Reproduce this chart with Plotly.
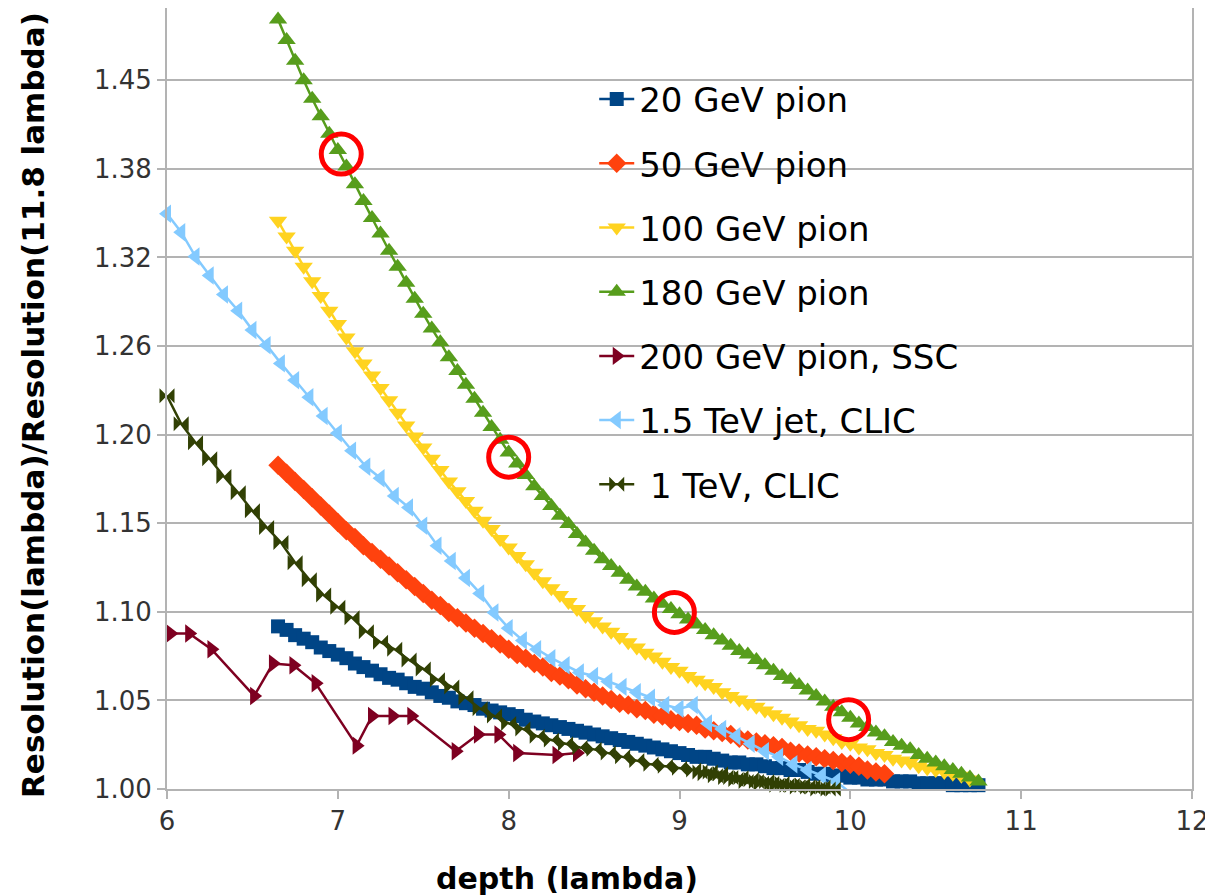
import numpy as np
import plotly.graph_objects as go

# ---------------- data ----------------
# dense series: start depth, step, values
pion20_start, pion20_step = 6.65, 0.05
pion20 = [1.089,1.087,1.084,1.082,1.080,1.077,1.075,1.073,1.071,1.068,
          1.066,1.064,1.062,1.060,1.059,1.057,1.055,1.054,1.052,1.050,
          1.049,1.047,1.046,1.045,1.043,1.042,1.041,1.040,1.039,1.037,
          1.036,1.035,1.034,1.033,1.032,1.031,1.030,1.029,1.028,1.027,
          1.026,1.025,1.024,1.023,1.022,1.021,1.020,1.019,1.018,1.017,
          1.017,1.016,1.015,1.014,1.014,1.013,1.013,1.012,1.011,1.011,
          1.010,1.010,1.009,1.008,1.008,1.007,1.007,1.006,1.006,1.005,
          1.005,1.005,1.004,1.004,1.004,1.003,1.003,1.003,1.003,1.002,
          1.002,1.002,1.002]

pion50_start, pion50_step = 6.65, 0.05
pion50 = [1.185,1.180,1.175,1.170,1.165,1.160,1.155,1.150,1.145,1.141,
          1.136,1.132,1.128,1.124,1.120,1.116,1.112,1.108,1.104,1.101,
          1.097,1.094,1.091,1.088,1.085,1.082,1.079,1.076,1.073,1.071,
          1.068,1.066,1.063,1.061,1.059,1.056,1.054,1.052,1.050,1.048,
          1.046,1.045,1.043,1.042,1.040,1.039,1.037,1.036,1.035,1.034,
          1.032,1.031,1.030,1.029,1.027,1.026,1.025,1.024,1.023,1.022,
          1.020,1.019,1.018,1.017,1.016,1.015,1.014,1.013,1.012,1.010,
          1.009,1.008]

pion100_start, pion100_step = 6.65, 0.05
pion100 = [1.347,1.336,1.326,1.315,1.305,1.295,1.285,1.276,1.267,1.258,
           1.250,1.242,1.234,1.226,1.218,1.210,1.203,1.196,1.189,1.182,
           1.175,1.169,1.163,1.157,1.151,1.146,1.140,1.135,1.130,1.125,
           1.120,1.115,1.111,1.107,1.103,1.099,1.095,1.092,1.089,1.086,
           1.083,1.080,1.077,1.074,1.072,1.069,1.066,1.064,1.061,1.059,
           1.057,1.055,1.052,1.050,1.048,1.046,1.044,1.042,1.040,1.038,
           1.036,1.034,1.032,1.031,1.029,1.027,1.025,1.024,1.022,1.021,
           1.019,1.018,1.016,1.015,1.014,1.012,1.011,1.010,1.009,1.008,
           1.007,1.005]

pion180_start, pion180_step = 6.65, 0.05
pion180 = [1.497,1.481,1.465,1.450,1.436,1.423,1.410,1.398,1.386,1.373,
           1.361,1.349,1.338,1.326,1.315,1.304,1.293,1.283,1.273,1.264,
           1.254,1.245,1.236,1.227,1.218,1.209,1.201,1.193,1.186,1.179,
           1.172,1.166,1.160,1.154,1.149,1.143,1.138,1.133,1.128,1.124,
           1.120,1.116,1.112,1.109,1.105,1.102,1.099,1.096,1.093,1.090,
           1.087,1.084,1.081,1.078,1.075,1.073,1.070,1.067,1.064,1.061,
           1.059,1.056,1.053,1.050,1.047,1.044,1.041,1.038,1.035,1.033,
           1.030,1.028,1.025,1.023,1.021,1.018,1.016,1.014,1.012,1.010,
           1.008,1.006,1.004]

ssc_x = [6.02, 6.13, 6.26, 6.51, 6.62, 6.74, 6.87, 7.11, 7.20, 7.32,
         7.43, 7.69, 7.82, 7.94, 8.05, 8.28, 8.40]
ssc_y = [1.085, 1.085, 1.076, 1.050, 1.068, 1.067, 1.057, 1.023, 1.039, 1.039,
         1.039, 1.020, 1.029, 1.029, 1.019, 1.018, 1.019]

jet15_start, jet15_step = 6.0, 1.0 / 12
jet15 = [1.352,1.339,1.322,1.309,1.296,1.285,1.272,1.262,1.250,1.239,
         1.228,1.216,1.205,1.194,1.184,1.177,1.166,1.159,1.148,1.136,
         1.127,1.117,1.108,1.097,1.088,1.081,1.076,1.071,1.067,1.063,
         1.061,1.058,1.055,1.052,1.049,1.045,1.043,1.045,1.035,1.032,
         1.028,1.024,1.020,1.017,1.013,1.010,1.007,1.004,0.998]

tev1_x = [6.000,6.083,6.167,6.250,6.333,6.417,6.500,6.583,6.667,6.750,
          6.833,6.917,7.000,7.083,7.167,7.250,7.333,7.417,7.500,7.583,
          7.667,7.750,7.833,7.917,8.000,8.083,8.167,8.250,8.333,8.417,
          8.500,8.583,8.667,8.750,8.833,8.917,9.000,9.083,
          9.12,9.15,9.18,9.21,9.24,9.27,9.30,9.33,9.36,9.39,
          9.42,9.45,9.48,9.51,9.54,9.57,9.60,9.63,9.66,9.69,
          9.72,9.75,9.78,9.81,9.84,9.87,9.90,9.93,9.96,9.99]
tev1_y = [1.229,1.211,1.199,1.189,1.178,1.168,1.157,1.147,1.138,1.126,
          1.116,1.107,1.100,1.094,1.086,1.080,1.076,1.070,1.065,1.059,
          1.055,1.049,1.043,1.039,1.035,1.032,1.028,1.026,1.024,1.022,
          1.021,1.019,1.017,1.015,1.013,1.012,1.011,1.010,
          1.009,1.008,1.009,1.007,1.008,1.006,1.006,1.005,1.006,1.004,
          1.005,1.004,1.003,1.004,1.003,1.002,1.003,1.002,1.002,1.001,
          1.002,1.001,1.001,1.000,1.001,1.000,1.000,0.999,0.999,0.998]

circle_x = [7.02, 8.00, 8.97, 9.99]
circle_y = [1.395, 1.190, 1.097, 1.037]

y_tick_text = ["1.00", "1.05", "1.10", "1.15", "1.20", "1.26", "1.32", "1.38", "1.45"]
x_ticks = [6, 7, 8, 9, 10, 11, 12]

x_title = "depth (lambda)"
y_title = "Resolution(lambda)/Resolution(11.8 lambda)"


def xs(start, step, vals):
    return [round(start + step * i, 4) for i in range(len(vals))]


series = [
    ("20 GeV pion", xs(pion20_start, pion20_step, pion20), pion20, "#004586", "square", 14),
    ("50 GeV pion", xs(pion50_start, pion50_step, pion50), pion50, "#ff420e", "diamond", 15),
    ("100 GeV pion", xs(pion100_start, pion100_step, pion100), pion100, "#ffd320", "triangle-down", 16),
    ("180 GeV pion", xs(pion180_start, pion180_step, pion180), pion180, "#579d1c", "triangle-up", 16),
    ("200 GeV pion, SSC", ssc_x, ssc_y, "#7e0021", "triangle-right", 16),
    ("1.5 TeV jet, CLIC", xs(jet15_start, jet15_step, jet15), jet15, "#83caff", "triangle-left", 16),
    (" 1 TeV, CLIC", tev1_x, tev1_y, "#314004", "bowtie", 15),
]

fig = go.Figure()
for i, (name, x, y, color, sym, size) in enumerate(series):
    fig.add_trace(go.Scatter(
        x=x, y=y, name=name, mode="lines+markers",
        line=dict(color=color, width=2.5),
        marker=dict(symbol=sym, size=size, color=color, line=dict(width=0)),
        legendgroup="g%d" % i, cliponaxis=False,
    ))

fig.add_trace(go.Scatter(
    x=circle_x, y=circle_y, mode="markers", showlegend=False,
    marker=dict(symbol="circle-open", size=40, color="#ff0000",
                line=dict(width=5, color="#ff0000")),
    cliponaxis=False,
))

ratio = 1.45 ** (1.0 / 8)
y_tick_vals = [ratio ** k for k in range(len(y_tick_text))]

grid_c = "#b3b3b3"
# the page body adds an 8px offset, so the figure is 8px smaller and margins shifted
fig.update_layout(
    width=1205, height=888,
    margin=dict(l=159, r=21, t=0, b=107),
    paper_bgcolor="white", plot_bgcolor="white",
    font=dict(family="DejaVu Sans", color="#000000"),
    showlegend=True,
    legend=dict(x=0.4168, y=0.92, xanchor="left", yanchor="top",
                bgcolor="rgba(0,0,0,0)", borderwidth=0,
                font=dict(size=34, family="DejaVu Sans", color="#000000"),
                traceorder="grouped", tracegroupgap=17, itemwidth=35),
    xaxis=dict(range=[6, 12], tickvals=x_ticks, ticktext=[str(v) for v in x_ticks],
               showgrid=False, zeroline=False, automargin=False,
               showline=True, linecolor=grid_c, linewidth=2, mirror=True,
               ticks="outside", ticklen=8, tickcolor=grid_c, tickwidth=2,
               tickfont=dict(size=26, family="DejaVu Sans", color="#333333")),
    yaxis=dict(type="log", range=[0, np.log10(1.506)],
               tickvals=y_tick_vals, ticktext=y_tick_text,
               showgrid=True, gridcolor=grid_c, gridwidth=2, zeroline=False, automargin=False,
               showline=True, linecolor=grid_c, linewidth=2, mirror=True,
               ticks="outside", ticklen=8, tickcolor=grid_c, tickwidth=2,
               tickfont=dict(size=26, family="DejaVu Sans", color="#333333")),
    annotations=[
        dict(text="<b>%s</b>" % x_title, xref="paper", yref="paper",
             x=0.39, y=-0.1152, xanchor="center", yanchor="middle", showarrow=False,
             font=dict(size=30, family="DejaVu Sans", color="#000000")),
        dict(text="<b>%s</b>" % y_title, xref="paper", yref="paper",
             x=-0.1307, y=0.4917, xanchor="center", yanchor="middle", showarrow=False,
             textangle=-90,
             font=dict(size=31, family="DejaVu Sans", color="#000000")),
    ],
)

fig.write_html("out.html")
